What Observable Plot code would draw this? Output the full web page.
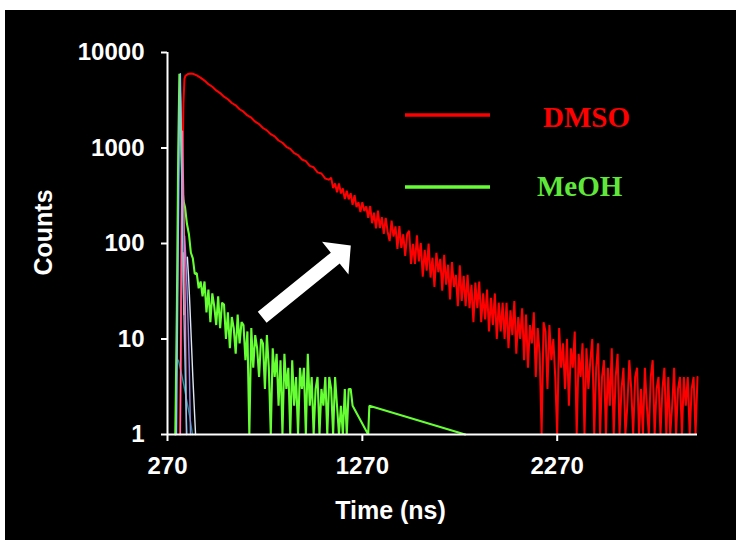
<!DOCTYPE html>
<html>
<head>
<meta charset="utf-8">
<script src="https://cdn.jsdelivr.net/npm/d3@7"></script>
<script src="https://cdn.jsdelivr.net/npm/@observablehq/plot@0.6"></script>
<style>
  html, body { margin: 0; padding: 0; background: #ffffff; }
  #wrap { position: relative; width: 742px; height: 540px; overflow: hidden; background: #ffffff; }
  #bg { position: absolute; left: 5px; top: 10px; width: 731px; height: 530px; background: #000000; }
  #chart { position: absolute; left: 0; top: 0; }
  #legend { position: absolute; left: 0; top: 0; }
</style>
</head>
<body>
<div id="wrap">
  <div id="bg"></div>
  <div id="chart"></div>
  <svg id="legend" width="742" height="540"></svg>
</div>
<script>
// ---------- axis ticks ----------
const xTicks = [270, 1270, 2270];
const yTicks = [1, 10, 100, 1000, 10000];
const xDomain = [270, 2990];
const yDomain = [1, 10000];

// ---------- DMSO decay (counts vs time, ns) ----------
const dmsoTime = [
  334, 338, 342, 347, 352, 357, 362, 375, 390, 405, 420, 439,
  460, 480, 500, 520, 540, 560, 580, 600, 620, 640, 660, 680, 700, 720, 740, 760,
  780, 800, 820, 840, 860, 880, 900, 920, 940, 960, 980, 1000, 1020, 1040, 1060, 1080, 1100,
  1110, 1120, 1130, 1140, 1150, 1160, 1170, 1180, 1190, 1200,
  1210, 1220, 1230, 1240, 1250, 1260, 1270, 1280, 1290, 1300,
  1310, 1320, 1330, 1340, 1350, 1360, 1370, 1380, 1390, 1400,
  1410, 1420, 1430, 1440, 1450, 1460, 1470, 1480, 1490, 1500,
  1510, 1520, 1530, 1540, 1550, 1560, 1570, 1580, 1590, 1600,
  1610, 1620, 1630, 1640, 1650, 1660, 1670, 1680, 1690, 1700,
  1710, 1720, 1730, 1740, 1750, 1760, 1770, 1780, 1790, 1800,
  1810, 1820, 1830, 1840, 1850, 1860, 1870, 1880, 1890, 1900,
  1910, 1920, 1930, 1940, 1950, 1960, 1970, 1980, 1990, 2000,
  2010, 2020, 2030, 2040, 2050, 2060, 2070, 2080, 2090, 2100,
  2110, 2120, 2130, 2140, 2150, 2160, 2170, 2180, 2190, 2200,
  2210, 2220, 2230, 2240, 2250, 2260, 2270, 2280, 2290, 2300,
  2310, 2320, 2330, 2340, 2350, 2360, 2370, 2380, 2390, 2400,
  2410, 2420, 2430, 2440, 2450, 2460, 2470, 2480, 2490, 2500,
  2510, 2520, 2530, 2540, 2550, 2560, 2570, 2580, 2590, 2600,
  2610, 2620, 2630, 2640, 2650, 2660, 2670, 2680, 2690, 2700,
  2710, 2720, 2730, 2740, 2750, 2760, 2770, 2780, 2790, 2800,
  2810, 2820, 2830, 2840, 2850, 2860, 2870, 2880, 2890, 2900,
  2910, 2920, 2930, 2940, 2950, 2960, 2970, 2980, 2990
];
const dmsoCounts = [
  1, 5, 60, 800, 3000, 5300, 5700, 5950, 6030, 5950, 5750, 5450,
  5080, 4660, 4380, 4010, 3760, 3450, 3240, 2960, 2800, 2545, 2400, 2190, 2075, 1885, 1780, 1620,
  1530, 1395, 1322, 1198, 1135, 1030, 978, 884, 842, 758, 728, 650, 628, 556, 541, 478, 466,
  490, 380, 426, 344, 426, 334, 377, 292, 356, 290,
  336, 254, 321, 241, 271, 214, 271, 219, 244, 186,
  247, 163, 210, 144, 221, 145, 189, 126, 185, 132,
  106, 174, 118, 151, 88, 152, 90, 125, 74, 126,
  136, 61, 99, 61, 122, 65, 101, 45, 86, 52,
  100, 44, 71, 35, 80, 50, 69, 32, 76, 37,
  60, 26, 64, 35, 47, 22, 59, 25, 46, 22,
  47, 21, 37, 15, 39, 21, 40, 15, 30, 16,
  33, 12, 27, 14, 30, 10, 24, 12, 24, 10,
  24, 8, 20, 11, 25, 7, 17, 10, 21, 6,
  18, 5, 14, 9, 19, 4, 13, 7, 1, 15,
  12, 3, 14, 6, 10, 4, 1, 13, 5, 9,
  3, 10, 2, 8, 5, 12, 1, 7, 4, 9,
  1, 8, 3, 6, 10, 1, 5, 9, 1, 4,
  6, 1, 5, 2, 8, 1, 4, 7, 1, 3,
  5, 1, 2, 6, 3, 1, 4, 5, 1, 3,
  1, 5, 2, 1, 4, 6, 1, 3, 4, 1,
  3, 5, 1, 4, 1, 2, 5, 1, 3, 4,
  1, 4, 2, 4, 1, 3, 4, 1, 4
];

// ---------- MeOH decay ----------
const meohTime = [
  310, 318, 325, 331, 336, 341, 346, 352,
  360, 370, 380, 390, 400, 410, 420, 430, 440, 450,
  460, 470, 480, 490, 500, 510, 520, 530, 540, 550,
  560, 570, 580, 590, 600, 610, 620, 630, 640, 650,
  660, 670, 680, 690, 700, 710, 720, 730, 740, 750,
  760, 770, 780, 790, 800, 810, 820, 830, 840, 850,
  860, 870, 880, 890, 900, 910, 920, 930, 940, 950,
  960, 970, 980, 990, 1000, 1010, 1020, 1030, 1040, 1050,
  1060, 1070, 1080, 1090, 1100, 1110, 1120, 1130, 1140, 1150,
  1160, 1170, 1180, 1190, 1200, 1210, 1220,
  1300, 1306, 1798
];
const meohCounts = [
  1, 20, 900, 6000, 3000, 900, 400, 280,
  240, 160, 125, 80, 70, 48, 49, 34, 40, 28,
  40, 19, 33, 15, 30, 22, 14, 28, 13, 24,
  23, 10, 19, 8, 17, 13, 7, 18, 9, 15,
  14, 6, 12, 1, 13, 5, 11, 8, 4, 10,
  9, 3, 11, 5, 1, 8, 4, 7, 2, 6,
  1, 7, 3, 5, 1, 6, 2, 4, 1, 5,
  3, 5, 1, 7, 2, 4, 1, 3, 4, 1,
  3, 2, 4, 1, 4, 3, 1, 4, 2, 1,
  2, 1, 3, 1, 3, 3, 2,
  1, 2, 1
];

// ---------- instrument-response traces near time zero ----------
const irfBlueTime = [316, 324, 330, 336, 341, 346, 351, 357, 363, 369];
const irfBlueCounts = [1, 60, 1400, 6000, 1200, 200, 40, 10, 3, 1];
const irfPinkTime = [336, 342, 347, 352, 357, 362, 367];
const irfPinkCounts = [1, 200, 1500, 400, 90, 18, 1];
const irfPeachTime = [350, 352, 354];
const irfPeachCounts = [80, 40, 18];
const irfLavenderTime = [358, 364, 370, 376, 382, 388];
const irfLavenderCounts = [120, 70, 35, 14, 5, 1];
const irfWhiteTime = [372, 378, 385, 392, 400, 407, 414];
const irfWhiteCounts = [72, 45, 22, 10, 4, 2, 1];
const irfTealTime = [326, 340, 355, 370, 385, 398];
const irfTealCounts = [6, 4.5, 3.2, 2.2, 1.5, 1];

// ---------- annotation arrow (tail position in data units) ----------
const arrowTime = [756];
const arrowCounts = [16.9];

// ---------- legend ----------
const seriesNames = ["DMSO", "MeOH"];
const seriesColors = ["#ff0000", "#66ff33"];
const legendTextColors = ["#ff0000", "#5fe83a"];

const toRows = (ts, cs) => ts.map((t, i) => ({t, c: cs[i]}));

const dmso = toRows(dmsoTime, dmsoCounts);
const meoh = toRows(meohTime, meohCounts);
const irfs = [
  {rows: toRows(irfTealTime, irfTealCounts), color: "#23908f"},
  {rows: toRows(irfLavenderTime, irfLavenderCounts), color: "#9b87e6"},
  {rows: toRows(irfWhiteTime, irfWhiteCounts), color: "#dde6f2"},
  {rows: toRows(irfPinkTime, irfPinkCounts), color: "#ff6fae"},
  {rows: toRows(irfPeachTime, irfPeachCounts), color: "#ffb38a"},
  {rows: toRows(irfBlueTime, irfBlueCounts), color: "#8ec5ea"}
];
const arrow = toRows(arrowTime, arrowCounts);

const blockArrow = {
  draw(context, l) {
    const sw = 7, hw = 21, hl = 20;
    context.moveTo(-sw, 0);
    context.lineTo(-sw, -(l - hl));
    context.lineTo(-hw, -(l - hl));
    context.lineTo(0, -l);
    context.lineTo(hw, -(l - hl));
    context.lineTo(sw, -(l - hl));
    context.lineTo(sw, 0);
    context.closePath();
  }
};

const fmt = d => String(d);
const font = "'Liberation Sans', Arial, sans-serif";

const chart = Plot.plot({
  width: 742,
  height: 540,
  marginLeft: 167,
  marginRight: 45,
  marginTop: 52,
  marginBottom: 106,
  style: {background: "transparent", color: "white", fontFamily: font, fontWeight: "bold", fontSize: "24px", overflow: "visible"},
  x: {type: "linear", domain: xDomain},
  y: {type: "log", domain: yDomain},
  marks: [
    Plot.line(meoh, {x: "t", y: "c", stroke: seriesColors[1], strokeWidth: 2.1, strokeLinejoin: "miter"}),
    Plot.line(dmso, {x: "t", y: "c", stroke: seriesColors[0], strokeWidth: 2, strokeLinejoin: "miter"}),
    ...irfs.map(s => Plot.line(s.rows, {x: "t", y: "c", stroke: s.color, strokeWidth: 1.4})),
    Plot.ruleX([xTicks[0]], {stroke: "white", strokeWidth: 2}),
    Plot.ruleY([yTicks[0]], {stroke: "white", strokeWidth: 2}),
    Plot.axisX({ticks: xTicks, tickFormat: fmt, tickSize: 7, tickPadding: 15, fontSize: 24, fontWeight: "bold", fill: "white", stroke: "white", strokeWidth: 2, label: null}),
    Plot.axisY({ticks: yTicks, tickFormat: fmt, tickSize: 6, tickPadding: 17, fontSize: 24, fontWeight: "bold", fill: "white", stroke: "white", strokeWidth: 2, label: null}),
    Plot.vector(arrow, {x: "t", y: "c", length: 114, rotate: 51, anchor: "start", shape: blockArrow, fill: "white", stroke: "none"}),
    Plot.text(["Counts"], {text: d => d, frameAnchor: "left", dx: -124, dy: 32, rotate: -90, fontSize: 25, fontWeight: "bold", fill: "white", lineAnchor: "middle"}),
    Plot.text(["Time (ns)"], {text: d => d, frameAnchor: "bottom", dx: -42, dy: 76, fontSize: 25, fontWeight: "bold", fill: "white", lineAnchor: "middle"})
  ]
});
document.getElementById("chart").appendChild(chart);

// legend overlay
const leg = d3.select("#legend");
const legendRows = [
  {line: 115, textX: 543, textY: 127},
  {line: 187, textX: 537, textY: 196}
];
seriesNames.forEach((name, i) => {
  const r = legendRows[i];
  leg.append("line")
    .attr("x1", 405).attr("x2", 490).attr("y1", r.line).attr("y2", r.line)
    .attr("stroke", seriesColors[i]).attr("stroke-width", 3.5);
  leg.append("text")
    .attr("x", r.textX).attr("y", r.textY)
    .attr("fill", legendTextColors[i])
    .attr("font-family", "'Liberation Serif', 'Times New Roman', serif")
    .attr("font-weight", "bold")
    .attr("font-size", 29)
    .text(name);
});
</script>
</body>
</html>
